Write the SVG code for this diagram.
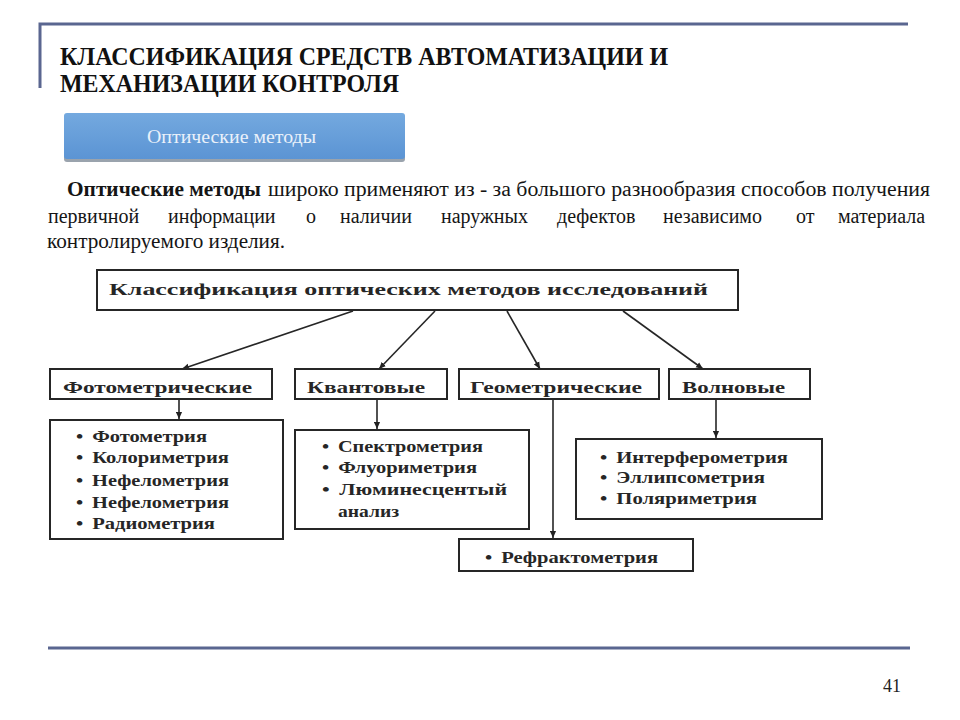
<svg xmlns="http://www.w3.org/2000/svg" width="960" height="720" viewBox="0 0 960 720">
<defs>
<linearGradient id="btn" x1="0" y1="0" x2="0" y2="1">
<stop offset="0" stop-color="#74a9df"/>
<stop offset="1" stop-color="#5b94d4"/>
</linearGradient>
<marker id="ah" viewBox="0 0 8 8" refX="8" refY="4" markerWidth="7" markerHeight="7" markerUnits="userSpaceOnUse" orient="auto">
<path d="M0,0.5 L8,4 L0,7.5 z" fill="#222"/>
</marker>
<style>
.frame{stroke:#5a6690;stroke-width:3;fill:none}
.title{font-family:'Liberation Serif','DejaVu Serif',serif;font-weight:bold;font-size:25px;fill:#111}
.para{font-family:'Liberation Serif','DejaVu Serif',serif;font-size:20px;fill:#151515}
.box{fill:#fff;stroke:#262626;stroke-width:2}
.dt{font-family:'Liberation Serif','DejaVu Serif',serif;font-weight:bold;font-size:17px;fill:#262626}
.li{font-family:'Liberation Serif','DejaVu Serif',serif;font-weight:bold;font-size:16px;fill:#262626}
.con{stroke:#262626;stroke-width:1.6;fill:none}
</style>
</defs>
<rect width="960" height="720" fill="#fff"/>
<g id="frame">
<path class="frame" d="M40,88 V24 H908"/>
<line class="frame" x1="48" y1="648" x2="910" y2="648"/>
</g>
<g id="title">
<text class="title" x="60" y="65" textLength="608" lengthAdjust="spacingAndGlyphs">КЛАССИФИКАЦИЯ СРЕДСТВ АВТОМАТИЗАЦИИ И</text>
<text class="title" x="60" y="92" textLength="339" lengthAdjust="spacingAndGlyphs">МЕХАНИЗАЦИИ КОНТРОЛЯ</text>
</g>
<g id="button">
<rect x="64" y="115" width="341" height="47" rx="3" fill="#9aa3ad"/>
<rect x="64" y="113" width="341" height="46" rx="3" fill="url(#btn)"/>
<text x="147" y="143" font-family="'Liberation Serif','DejaVu Serif',serif" font-size="19" fill="#eaf1fa" textLength="169" lengthAdjust="spacingAndGlyphs">Оптические методы</text>
</g>
<g id="paragraph">
<text class="para" x="67" y="196" font-weight="bold" textLength="194" lengthAdjust="spacingAndGlyphs">Оптические методы</text>
<text class="para" x="268" y="196" textLength="662" lengthAdjust="spacingAndGlyphs">широко применяют из - за большого разнообразия способов получения</text>
<text class="para" y="223"><tspan x="48">первичной</tspan><tspan x="168">информации</tspan><tspan x="306">о</tspan><tspan x="340">наличии</tspan><tspan x="441">наружных</tspan><tspan x="557">дефектов</tspan><tspan x="663">независимо</tspan><tspan x="796">от</tspan><tspan x="838">материала</tspan></text>
<text class="para" x="47" y="248" textLength="238" lengthAdjust="spacingAndGlyphs">контролируемого изделия.</text>
</g>
<g id="connectors">
<line class="con" x1="353" y1="311" x2="182" y2="369" marker-end="url(#ah)"/>
<line class="con" x1="435" y1="311" x2="379" y2="369" marker-end="url(#ah)"/>
<line class="con" x1="507" y1="311" x2="540" y2="369" marker-end="url(#ah)"/>
<line class="con" x1="623" y1="311" x2="703" y2="369" marker-end="url(#ah)"/>
<line class="con" x1="179" y1="400" x2="179" y2="419" marker-end="url(#ah)"/>
<line class="con" x1="377" y1="400" x2="377" y2="429" marker-end="url(#ah)"/>
<line class="con" x1="553" y1="400" x2="553" y2="538" marker-end="url(#ah)"/>
<line class="con" x1="716" y1="400" x2="716" y2="438" marker-end="url(#ah)"/>
</g>
<g id="root">
<rect class="box" x="97" y="270" width="641" height="40"/>
<text class="dt" x="109" y="295" font-size="18" textLength="599" lengthAdjust="spacingAndGlyphs">Классификация оптических методов исследований</text>
</g>
<g id="photometric">
<rect class="box" x="50" y="369" width="222" height="30"/>
<text class="dt" x="63" y="393" textLength="189" lengthAdjust="spacingAndGlyphs">Фотометрические</text>
</g>
<g id="quantum">
<rect class="box" x="295" y="369" width="152" height="30"/>
<text class="dt" x="307" y="393" textLength="118" lengthAdjust="spacingAndGlyphs">Квантовые</text>
</g>
<g id="geometric">
<rect class="box" x="459" y="369" width="200" height="30"/>
<text class="dt" x="470" y="393" textLength="172" lengthAdjust="spacingAndGlyphs">Геометрические</text>
</g>
<g id="wave">
<rect class="box" x="669" y="369" width="141" height="30"/>
<text class="dt" x="682" y="393" textLength="103" lengthAdjust="spacingAndGlyphs">Волновые</text>
</g>
<g id="photometric-list">
<rect class="box" x="50" y="420" width="233" height="119"/>
<text class="li" x="76" y="442" textLength="131" lengthAdjust="spacingAndGlyphs">•<tspan dx="7">Фотометрия</tspan></text>
<text class="li" x="76" y="463" textLength="153" lengthAdjust="spacingAndGlyphs">•<tspan dx="7">Колориметрия</tspan></text>
<text class="li" x="76" y="486" textLength="153" lengthAdjust="spacingAndGlyphs">•<tspan dx="7">Нефелометрия</tspan></text>
<text class="li" x="76" y="508" textLength="153" lengthAdjust="spacingAndGlyphs">•<tspan dx="7">Нефелометрия</tspan></text>
<text class="li" x="76" y="529" textLength="139" lengthAdjust="spacingAndGlyphs">•<tspan dx="7">Радиометрия</tspan></text>
</g>
<g id="quantum-list">
<rect class="box" x="295" y="430" width="234" height="99"/>
<text class="li" x="322" y="452" textLength="161" lengthAdjust="spacingAndGlyphs">•<tspan dx="7">Спектрометрия</tspan></text>
<text class="li" x="322" y="473" textLength="155" lengthAdjust="spacingAndGlyphs">•<tspan dx="7">Флуориметрия</tspan></text>
<text class="li" x="322" y="495" textLength="185" lengthAdjust="spacingAndGlyphs">•<tspan dx="7">Люминесцентый</tspan></text>
<text class="li" x="338" y="517" textLength="61" lengthAdjust="spacingAndGlyphs">анализ</text>
</g>
<g id="refractometry">
<rect class="box" x="459" y="539" width="234" height="32"/>
<text class="li" x="485" y="563" textLength="173" lengthAdjust="spacingAndGlyphs">•<tspan dx="7">Рефрактометрия</tspan></text>
</g>
<g id="wave-list">
<rect class="box" x="576" y="439" width="246" height="80"/>
<text class="li" x="600" y="463" textLength="188" lengthAdjust="spacingAndGlyphs">•<tspan dx="7">Интерферометрия</tspan></text>
<text class="li" x="600" y="483" textLength="165" lengthAdjust="spacingAndGlyphs">•<tspan dx="7">Эллипсометрия</tspan></text>
<text class="li" x="600" y="504" textLength="157" lengthAdjust="spacingAndGlyphs">•<tspan dx="7">Поляриметрия</tspan></text>
</g>
<g id="page-number">
<text x="883" y="692" font-family="'Liberation Serif','DejaVu Serif',serif" font-size="19" fill="#222" textLength="18" lengthAdjust="spacingAndGlyphs">41</text>
</g>
</svg>
